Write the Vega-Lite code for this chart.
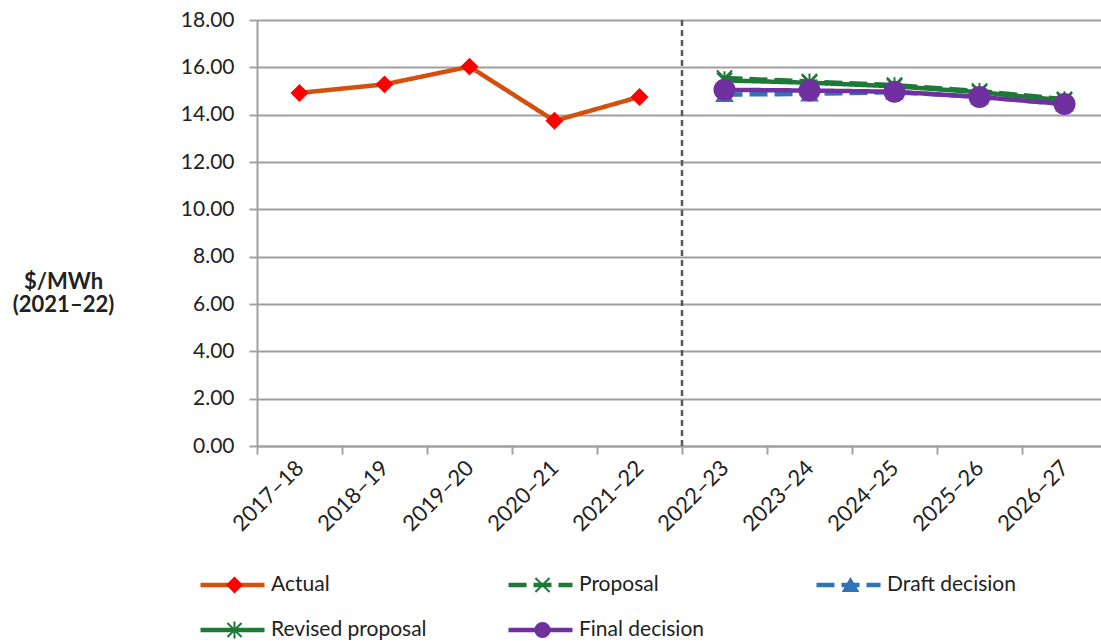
{
  "$schema": "https://vega.github.io/schema/vega-lite/v6.json",
  "width": 844,
  "height": 426,
  "autosize": {"type": "none"},
  "padding": {"left": 257, "top": 20, "right": 0, "bottom": 198},
  "background": "white",
  "config": {"view": {"stroke": null}, "font": "Lato", "legend": {"padding": 0}},
  "datasets": {
    "divider": [{"year": "2022–23"}],
    "series": [
      {"year": "2017–18", "series": "Actual", "value": 14.92},
      {"year": "2018–19", "series": "Actual", "value": 15.28},
      {"year": "2019–20", "series": "Actual", "value": 16.03},
      {"year": "2020–21", "series": "Actual", "value": 13.74},
      {"year": "2021–22", "series": "Actual", "value": 14.75},
      {"year": "2022–23", "series": "Proposal", "value": 15.55},
      {"year": "2023–24", "series": "Proposal", "value": 15.4},
      {"year": "2024–25", "series": "Proposal", "value": 15.25},
      {"year": "2025–26", "series": "Proposal", "value": 15.0},
      {"year": "2026–27", "series": "Proposal", "value": 14.65},
      {"year": "2022–23", "series": "Draft decision", "value": 14.85},
      {"year": "2023–24", "series": "Draft decision", "value": 14.88},
      {"year": "2024–25", "series": "Draft decision", "value": 14.95},
      {"year": "2025–26", "series": "Draft decision", "value": 14.75},
      {"year": "2026–27", "series": "Draft decision", "value": 14.45},
      {"year": "2022–23", "series": "Revised proposal", "value": 15.45},
      {"year": "2023–24", "series": "Revised proposal", "value": 15.35},
      {"year": "2024–25", "series": "Revised proposal", "value": 15.2},
      {"year": "2025–26", "series": "Revised proposal", "value": 14.95},
      {"year": "2026–27", "series": "Revised proposal", "value": 14.6},
      {"year": "2022–23", "series": "Final decision", "value": 15.05},
      {"year": "2023–24", "series": "Final decision", "value": 15.02},
      {"year": "2024–25", "series": "Final decision", "value": 14.97},
      {"year": "2025–26", "series": "Final decision", "value": 14.75},
      {"year": "2026–27", "series": "Final decision", "value": 14.45}
    ]
  },
  "layer": [
    {
      "data": {"name": "divider"},
      "mark": {"type": "rule", "strokeDash": [6, 4], "strokeWidth": 2.5, "color": "#595959"},
      "encoding": {
        "x": {"field": "year", "type": "ordinal", "bandPosition": 0}
      }
    },
    {
      "data": {"name": "series"},
      "mark": {"type": "line", "strokeWidth": 4.5},
      "encoding": {
        "x": {
          "field": "year", "type": "ordinal", "bandPosition": 0.5,
          "scale": {
            "type": "band", "paddingInner": 0, "paddingOuter": 0, "range": [0, 850],
            "domain": ["2017–18", "2018–19", "2019–20", "2020–21", "2021–22", "2022–23", "2023–24", "2024–25", "2025–26", "2026–27"]
          },
          "axis": {
            "title": null, "labelAngle": -45, "labelFontSize": 22, "labelColor": "#222", "labelPadding": 10,
            "tickBand": "extent", "tickSize": 8, "tickColor": "#A0A0A0", "tickWidth": 2,
            "domainColor": "#A0A0A0", "domainWidth": 2, "grid": false
          }
        },
        "y": {
          "field": "value", "type": "quantitative",
          "scale": {"domain": [0, 18], "nice": false, "zero": true},
          "axis": {
            "title": ["$/MWh", "(2021–22)"], "titleAngle": 0, "titleFontSize": 22, "titleFontWeight": "bold",
            "titleX": -194, "titleY": 261, "titleAlign": "center", "titleBaseline": "middle", "titleLineHeight": 23,
            "titleColor": "#222", "format": ".2f", "values": [0, 2, 4, 6, 8, 10, 12, 14, 16, 18],
            "labelFontSize": 21, "labelColor": "#222", "labelPadding": 15, "tickSize": 8, "tickColor": "#A0A0A0", "tickWidth": 2,
            "domainColor": "#A0A0A0", "domainWidth": 2, "gridColor": "#A0A0A0", "gridWidth": 2
          }
        },
        "color": {
          "field": "series", "type": "nominal",
          "scale": {
            "domain": ["Actual", "Proposal", "Draft decision", "Revised proposal", "Final decision"],
            "range": ["#D4500F", "#1D7A36", "#2E75B6", "#1D7A36", "#7030A0"]
          },
          "legend": {
            "orient": "none", "legendX": -59, "legendY": 553, "columns": 3, "direction": "horizontal", "title": null,
            "symbolType": "stroke", "symbolSize": 4096, "symbolStrokeWidth": 4.5,
            "labelFontSize": 21, "labelColor": "#222", "labelOffset": 4, "clipHeight": 24,
            "rowPadding": 21, "columnPadding": 79, "gridAlign": "all"
          }
        },
        "strokeDash": {
          "field": "series", "type": "nominal",
          "scale": {
            "domain": ["Actual", "Proposal", "Draft decision", "Revised proposal", "Final decision"],
            "range": [[1, 0], [18, 7], [18, 7], [1, 0], [1, 0]]
          }
        }
      }
    },
    {
      "data": {"name": "series"},
      "mark": {"type": "point", "filled": true, "strokeWidth": 2, "opacity": 1},
      "encoding": {
        "x": {"field": "year", "type": "ordinal", "bandPosition": 0.5},
        "y": {"field": "value", "type": "quantitative"},
        "shape": {
          "field": "series", "type": "nominal", "sort": null,
          "scale": {"range": ["diamond", "M-1,-1L1,1M-1,1L1,-1", "triangle-up", "M-1,-1L1,1M-1,1L1,-1M0,-1.2L0,1.2", "circle"]},
          "legend": {
            "orient": "none", "legendX": -59, "legendY": 553, "columns": 3, "direction": "horizontal", "title": null,
            "symbolSize": 200, "symbolStrokeWidth": 2, "symbolOffset": 26,
            "labelFontSize": 21, "labelOpacity": 0, "labelOffset": 56, "clipHeight": 24,
            "rowPadding": 21, "columnPadding": 49, "gridAlign": "all"
          }
        },
        "fill": {
          "field": "series", "type": "nominal", "sort": null,
          "scale": {"range": ["#FF0000", "#1D7A36", "#2E75B6", "#1D7A36", "#7030A0"]}
        },
        "stroke": {
          "field": "series", "type": "nominal", "sort": null,
          "scale": {"range": ["#FF0000", "#1D7A36", "#2E75B6", "#1D7A36", "#7030A0"]}
        },
        "size": {"condition": {"test": "datum.series === 'Final decision'", "value": 400}, "value": 230}
      }
    }
  ]
}
